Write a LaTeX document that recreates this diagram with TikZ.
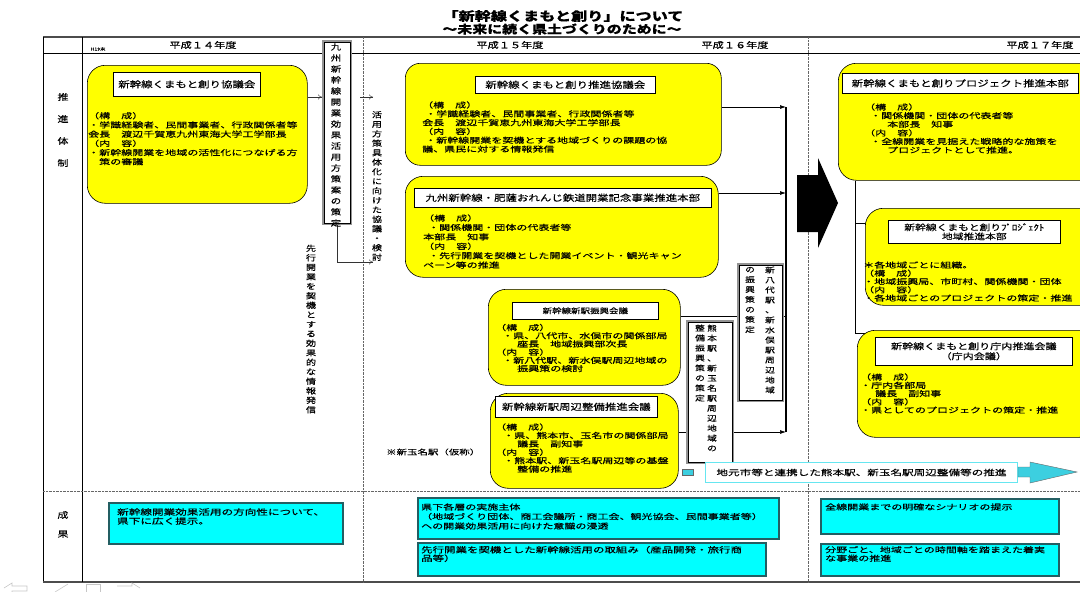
\documentclass[tikz,border=0pt]{standalone}
\usepackage{fontspec}
\usetikzlibrary{arrows.meta,calc}
\newfontfamily\jp[FakeStretch=1.3,FakeBold=0.3]{Noto Sans CJK JP}
\newfontfamily\jpw[FakeStretch=1.45,FakeBold=0.3]{Noto Sans CJK JP}
\definecolor{yel}{HTML}{FFFF00}
\definecolor{cyn}{HTML}{00FFFF}
\definecolor{cynar}{HTML}{3CCFE0}
\definecolor{cynbd}{HTML}{235E62}
\definecolor{cynln}{HTML}{66E6F0}
\newcommand\jfs[2]{\fontsize{#1}{#2}\selectfont}
\newcommand\vchars[2]{\vbox{\baselineskip=#1\relax\lineskiplimit=-20pt\lineskip=0pt\vcaux#2\relax}}
\def\vcaux#1{\ifx\relax#1\else\hbox to 12pt{\hss#1\hss}\expandafter\vcaux\fi}
\pgfdeclarelayer{bg}
\pgfsetlayers{bg,main}
\begin{document}
\begin{tikzpicture}[x=1pt,y=-1pt,
  ybox/.style={draw=black,line width=0.6pt,fill=yel,rounded corners=#1,anchor=north west,inner sep=0pt},
  ybox/.default=18pt,
  tbox/.style={draw=black,line width=0.6pt,fill=white,anchor=north west,inner sep=0pt,align=center,font=\jp\jfs{8.8}{9.5}},
  body/.style={anchor=west,inner sep=0pt,align=left,font=\jpw\jfs{7.6}{#1}},
  body/.default=9.3,
  gbox/.style={draw=gray!85,line width=2.4pt,fill=white,anchor=north west,inner sep=0pt},
  cbox/.style={draw=cynbd,line width=1.8pt,fill=cyn,anchor=north west,inner sep=0pt},
  hdr/.style={inner sep=0pt,font=\jp\jfs{8.6}{10}},
  vtxt/.style={inner sep=0pt,font=\jp\jfs{7.5}{9}},
  thinarr/.style={-{To[length=4pt,width=5pt]},line width=0.4pt,draw=black!80},
  fillarr/.style={-{Latex[length=6pt,width=4pt]},line width=0.7pt},
]
\useasboundingbox (0,0) rectangle (1080,592);
\clip (0,0) rectangle (1080,592);

% title
\node[font=\jp\bfseries\jfs{12.4}{14}] (t1) at (563,16) {「新幹線くまもと創り」について};
\node[font=\jp\bfseries\jfs{11.5}{13}] (t2) at (562,29) {～未来に続く県土づくりのために～};

% headers
\node[hdr] (h14) at (203,45) {平成１４年度};
\node[hdr] (h15) at (510,45) {平成１５年度};
\node[hdr] (h16) at (735,45) {平成１６年度};
\node[hdr] (h17) at (1040,45) {平成１７年度};
\node[inner sep=0pt,font=\jp\jfs{4}{5}] (h19) at (98,49) {H19末};

% row labels
\node[vtxt,font=\jp\jfs{8.5}{9}] (r1) at (63,130) {\vchars{22pt}{推進体制}};
\node[vtxt,font=\jp\jfs{8.5}{9}] (r2) at (63,524.5) {\vchars{19pt}{成果}};

% H14 box
\node[ybox,minimum width=220pt,minimum height=138pt] (A) at (87,65) {};
\node[tbox,minimum width=147pt,minimum height=24pt] (At) at (113,72) {新幹線くまもと創り協議会};
\node[body=9.2] (Ab) at (88,138.7) {（構　成）\\・学識経験者、民間事業者、行政関係者等\\会長　渡辺千賀恵九州東海大学工学部長\\（内　容）\\・新幹線開業を地域の活性化につなげる方\\　策の審議};

% gray box 1
\node[gbox,minimum width=28pt,minimum height=183pt] (G1) at (322,40) {};
\draw[line width=0.5pt] ($(G1.north west)+(1.8,1.8)$) rectangle ($(G1.south east)+(-1.8,-1.8)$);
\node[vtxt,font=\jp\jfs{8}{9}] (G1t) at (336,135) {\vchars{11pt}{九州新幹線開業効果活用方策案の策定}};

\node[vtxt,font=\jp\jfs{7.8}{9}] (kat) at (377,186) {\vchars{9.5pt}{活用方策具体化に向けた協議・検討}};
\node[vtxt,font=\jp\jfs{7.8}{9}] (sen) at (311,329) {\vchars{9.5pt}{先行開業を契機とする効果的な情報発信}};

% H15 boxes
\node[ybox=15pt,minimum width=316pt,minimum height=102pt] (B) at (405,63) {};
\node[tbox,minimum width=180pt,minimum height=17pt] (Bt) at (475,76) {新幹線くまもと創り推進協議会};
\node[body=8.8] (Bb) at (422,127) {（構　成）\\\hspace{3pt}・学識経験者、民間事業者、行政関係者等\\会長　渡辺千賀恵九州東海大学工学部長\\（内　容）\\\hspace{3pt}・新幹線開業を契機とする地域づくりの課題の協\\議、県民に対する情報発信};

\node[ybox,minimum width=313pt,minimum height=101pt] (C) at (405,176) {};
\node[tbox,minimum width=297pt,minimum height=19pt] (Ct) at (414,188) {九州新幹線・肥薩おれんじ鉄道開業記念事業推進本部};
\node[body=9.4] (Cb) at (423,241.5) {（構　成）\\\hspace{5pt}・関係機関・団体の代表者等\\本部長　知事\\（内　容）\\\hspace{5pt}・先行開業を契機とした開業イベント・観光キャン\\ペーン等の推進};

\node[ybox,minimum width=192pt,minimum height=96pt] (D) at (488,289) {};
\node[tbox,minimum width=146pt,minimum height=17pt,font=\jp\jfs{7.3}{8}] (Dt) at (512,302) {新幹線新駅振興会議};
\node[body=8.2] (Db) at (495,348) {（構　成）\\\hspace{7pt}・県、八代市、水俣市の関係部局\\\hspace{22pt}座長　地域振興部次長\\（内　容）\\\hspace{7pt}・新八代駅、新水俣駅周辺地域の\\\hspace{22pt}振興策の検討};

\node[ybox,minimum width=188pt,minimum height=95pt] (E) at (490,393) {};
\node[tbox,minimum width=162pt,minimum height=21pt] (Et) at (495,396) {新幹線新駅周辺整備推進会議};
\node[body=8.4] (Eb) at (495,448) {（構　成）\\\hspace{8pt}・県、熊本市、玉名市の関係部局\\\hspace{22pt}議長　副知事\\（内　容）\\\hspace{8pt}・熊本駅、新玉名駅周辺等の基盤\\\hspace{22pt}整備の推進};

\node[anchor=west,inner sep=0pt,font=\jpw\jfs{7.2}{9}] (note) at (386,452) {※新玉名駅（仮称）};

% gray boxes F, G
\node[gbox,minimum width=46pt,minimum height=142pt] (F) at (686,320) {};
\draw[line width=0.5pt] ($(F.north west)+(1.8,1.8)$) rectangle ($(F.south east)+(-1.8,-1.8)$);
\node[vtxt] (Fr) at (712,388) {\vchars{10pt}{熊本駅、新玉名駅周辺地域の}};
\node[vtxt] (Fl) at (700,363) {\vchars{10pt}{整備振興策の策定}};

\node[gbox,minimum width=45pt,minimum height=137pt] (G) at (737,263) {};
\draw[line width=0.5pt] ($(G.north west)+(1.8,1.8)$) rectangle ($(G.south east)+(-1.8,-1.8)$);
\node[vtxt] (Gr) at (770,330) {\vchars{10pt}{新八代駅、新水俣駅周辺地域}};
\node[vtxt] (Gl) at (750,300) {\vchars{10pt}{の振興策の策定}};

% big arrow
\fill (797,175) -- (818,175) -- (818,158) -- (838,203) -- (818,248) -- (818,232) -- (797,232) -- cycle;

% H17 boxes
\node[ybox,minimum width=260pt,minimum height=117pt] (H) at (838,63) {};
\node[tbox,minimum width=236pt,minimum height=20pt] (Ht) at (842,73) {新幹線くまもと創りプロジェクト推進本部};
\node[body=8.6] (Hb) at (864,128.5) {（構　成）\\\hspace{6pt}・関係機関・団体の代表者等\\\hspace{23pt}本部長　知事\\（内　容）\\\hspace{6pt}・全線開業を見据えた戦略的な施策を\\\hspace{23pt}プロジェクトとして推進。};

\node[ybox,minimum width=235pt,minimum height=97pt] (I) at (865,208) {};
\node[tbox,minimum width=172pt,minimum height=23pt,font=\jp\jfs{8.3}{9}] (It) at (888,220) {新幹線くまもと創りﾌﾟﾛｼﾞｪｸﾄ\\地域推進本部};
\node[body=8.25] (Ib) at (863,281.5) {＊各地域ごとに組織。\\（構　成）\\・地域振興局、市町村、関係機関・団体\\（内　容）\\・各地域ごとのプロジェクトの策定・推進};

\node[ybox,minimum width=240pt,minimum height=107pt] (J) at (857,330) {};
\node[tbox,minimum width=197pt,minimum height=28pt,font=\jp\jfs{8.5}{10}] (Jt) at (875,337) {新幹線くまもと創り庁内推進会議\\（庁内会議）};
\node[body=8.25] (Jb) at (860,393.5) {（構　成）\\・庁内各部局\\\hspace{15pt}議長　副知事\\（内　容）\\・県としてのプロジェクトの策定・推進};

% cyan arrow
\node[draw=black!60,fill=cynar,minimum width=11pt,minimum height=6pt,inner sep=0pt,anchor=north west] (cs) at (682,469) {};
\node[draw=cynln,line width=1pt,fill=white,anchor=north west,minimum width=312pt,minimum height=20pt,inner sep=0pt,font=\jpw\jfs{8}{10}] (ct) at (705,462) {地元市等と連携した熊本駅、新玉名駅周辺整備等の推進};
\draw[draw=black!60,fill=cynar] (ct.east |- 0,467) -- (1030,467) -- (1030,462) -- (1077,472) -- (1030,483) -- (1030,477) -- (ct.east |- 0,477) -- cycle;

% result boxes
\node[cbox,minimum width=234pt,minimum height=41pt] (K) at (108,502) {};
\node[body,font=\jpw\jfs{8}{9}] (Kt) at (117,516.5) {新幹線開業効果活用の方向性について、\\県下に広く提示。};
\node[cbox,minimum width=361pt,minimum height=41pt] (L) at (417,497) {};
\node[body=9.5] (Lt) at (421,516.5) {県下各層の実施主体\\（地域づくり団体、商工会議所・商工会、観光協会、民間事業者等）\\への開業効果活用に向けた意識の浸透};
\node[cbox,minimum width=348pt,minimum height=33pt] (M) at (417,542) {};
\node[body=8.5,font=\jpw\jfs{7.9}{8.5}] (Mt) at (421,554) {先行開業を契機とした新幹線活用の取組み（産品開発・旅行商\\品等）};
\node[cbox,minimum width=238pt,minimum height=35pt] (N) at (820,498) {};
\node[body] (Nt) at (825,507) {全線開業までの明確なシナリオの提示};
\node[cbox,minimum width=238pt,minimum height=32pt] (O) at (820,543) {};
\node[body=8.5] (Ot) at (825,554) {分野ごと、地域ごとの時間軸を踏まえた着実\\な事業の推進};

% coordinates
\coordinate (a1) at (0,97);
\coordinate (c1) at (360,97);
\coordinate (c2) at (373,97);
\coordinate (c3) at (373,262);
\coordinate (bt) at (786,107);
\coordinate (bc) at (786,193);
\coordinate (bb) at (786,432);
\coordinate (dg) at (0,316);
\coordinate (hv) at (855,0);
\coordinate (iy) at (0,223);
\coordinate (jy) at (0,333);

\begin{pgfonlayer}{bg}
  % table
  \draw[line width=1.3pt,black!70] (43,37) -- (1080,37);
  \draw[line width=0.5pt] (43,53) -- (1080,53);
  \draw[line width=0.6pt] (43,37) -- (43,582);
  \draw[line width=1.2pt,black!70] (43,582) -- (1080,582);
  \draw[line width=0.6pt] (82,37) -- (82,582);
  \draw[densely dotted,black!60] (363,37) -- (363,582);
  \draw[densely dotted,black!60] (808,37) -- (808,582);
  \draw[densely dotted,black!60] (43,491) -- (1080,491);
  % connectors
  \draw[thinarr] (A.east |- a1) -- (G1.west |- a1);
  \draw[thinarr] (c1) -- (c2);
  \draw[thinarr] (G1.south) |- (c3);
  \draw[line width=1.5pt] (bt) -- (bb);
  \draw[fillarr] (B.east |- bt) -- (bt);
  \draw[fillarr] (C.east |- bc) -- (bc);
  \draw[fillarr] (F.east |- bb) -- (bb);
  \draw[line width=0.6pt] (E.east |- bb) -- (F.west |- bb);
  \draw[line width=0.6pt] (D.east |- dg) -- (G.west |- dg);
  \draw[line width=0.6pt] (G.east |- dg) -- (bt |- dg);
  \draw[line width=0.6pt] (H.south -| hv) -- (hv |- jy) -- ($(J.west |- jy)+(10,0)$);
  \draw[line width=0.6pt] (hv |- iy) -- ($(I.west |- iy)+(6,0)$);
  % nav icons
  \draw[gray!45,line width=0.6pt] (4,588) -- (12,583) -- (12,586) -- (27,586) -- (27,591) -- (12,591) -- (12,593);
  \draw[gray!45,line width=0.6pt] (55,592) -- (68,584);
  \draw[gray!45,line width=0.6pt] (86,584) rectangle (100,593);
  \draw[gray!45,line width=0.6pt] (140,588) -- (132,583) -- (132,586) -- (117,586);
\end{pgfonlayer}
\end{tikzpicture}
\end{document}
